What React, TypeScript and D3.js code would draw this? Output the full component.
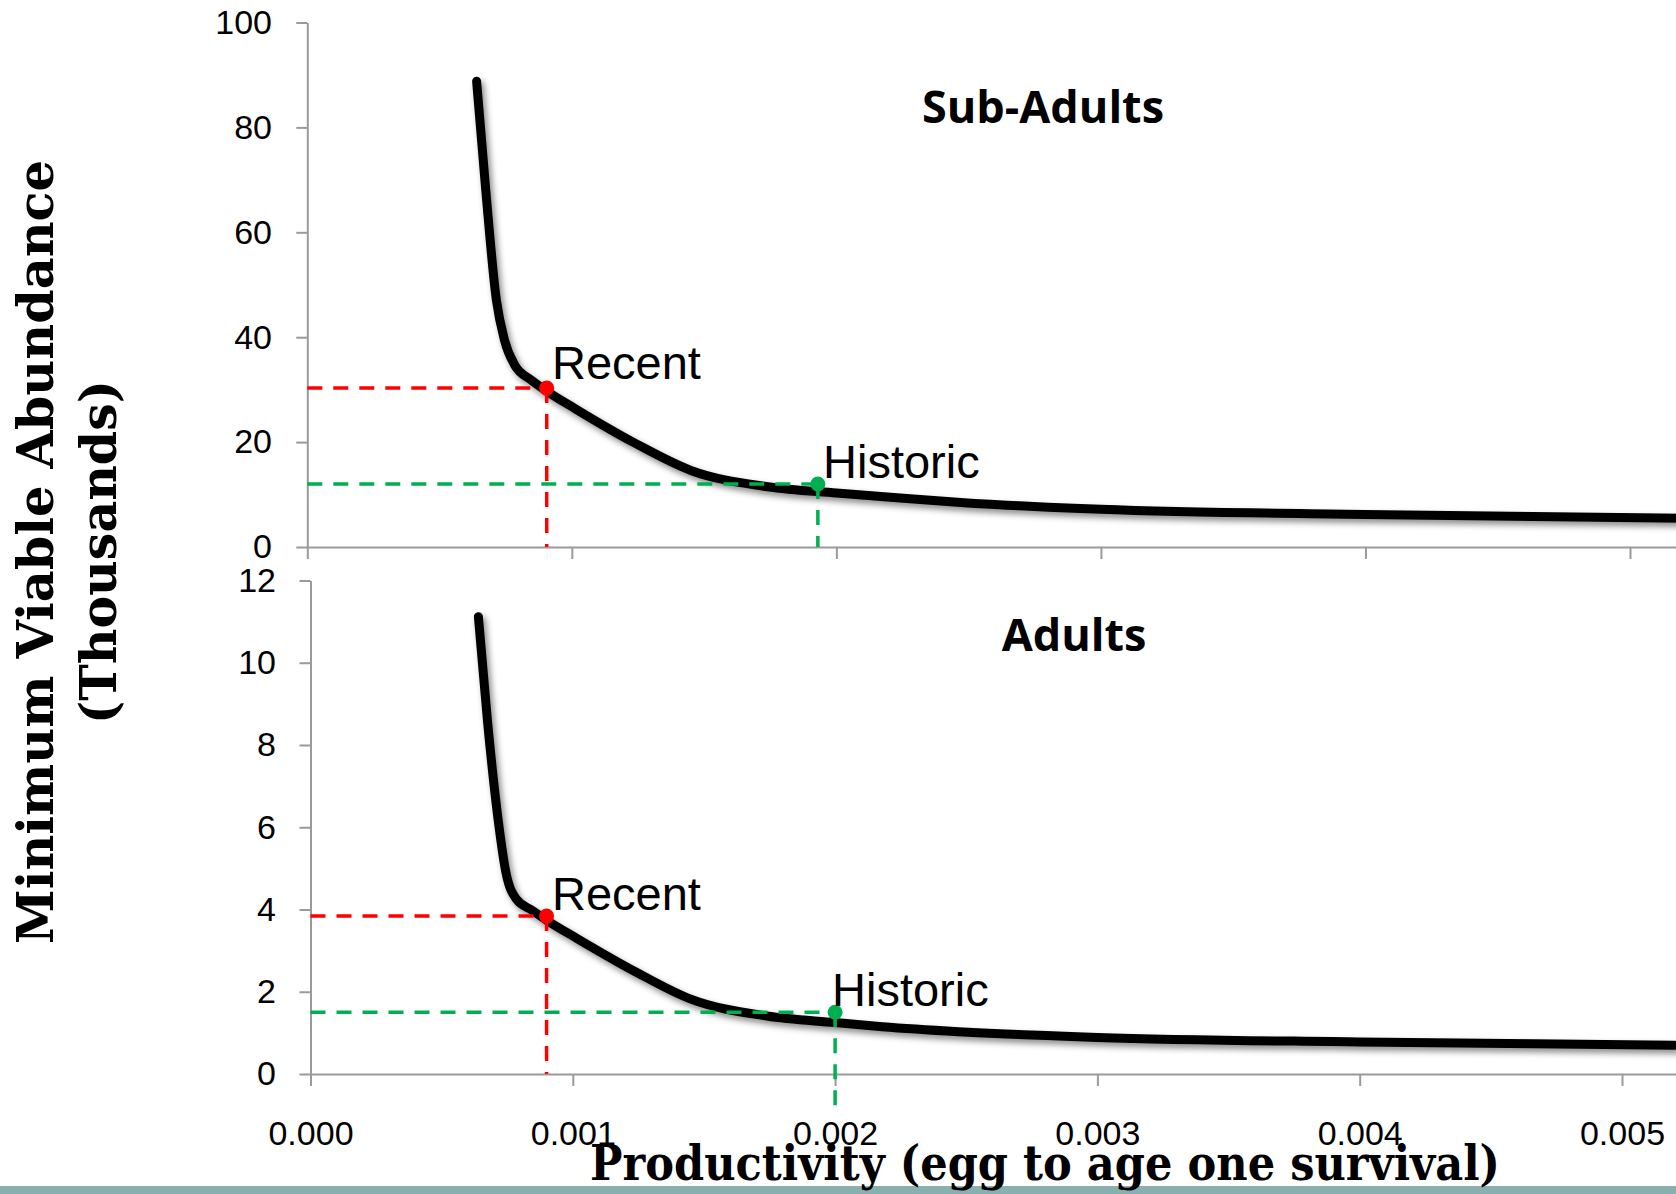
import React, { useEffect, useRef } from 'react';
import * as d3 from 'd3';

// values
const productivity = [0.00064, 0.000675, 0.000715, 0.000745, 0.000785, 0.000845, 0.0009, 0.001015, 0.001235, 0.00145, 0.00174, 0.002, 0.00218, 0.00247, 0.003, 0.004, 0.0052];
const subAdults = [88.8, 67.8, 47, 39.5, 34.6, 31.9, 29.9, 26.3, 19.9, 14.6, 11.5, 10.3, 9.6, 8.5, 7.2, 6.2, 5.5];
const adults = [11.12, 8.57, 6.2, 4.9, 4.25, 3.98, 3.74, 3.3, 2.5, 1.82, 1.41, 1.25, 1.15, 1.03, 0.89, 0.78, 0.7];

const subAdultTicks = [0, 20, 40, 60, 80, 100];
const adultTicks = [0, 2, 4, 6, 8, 10, 12];
const xTicks = [0, 0.001, 0.002, 0.003, 0.004, 0.005];
const xTickLabels = ['0.000', '0.001', '0.002', '0.003', '0.004', '0.005'];

// [productivity, abundance]
const subAdultRecent = [0.000905, 30.3];
const subAdultHistoric = [0.00193, 12.0];
const adultRecent = [0.0009, 3.84];
const adultHistoric = [0.002, 1.5];

const W = 1676;
const H = 1194;

const App = () => {
  const ref = useRef(null);

  useEffect(() => {
    const svg = d3.select(ref.current);
    svg.selectAll('*').remove();

    const defs = svg.append('defs');
    const f = defs.append('filter')
      .attr('id', 'shadow')
      .attr('x', '-10%').attr('y', '-10%')
      .attr('width', '130%').attr('height', '130%');
    f.append('feDropShadow')
      .attr('dx', 3).attr('dy', 4)
      .attr('stdDeviation', 3)
      .attr('flood-color', '#000')
      .attr('flood-opacity', 0.45);

    const panels = [
      {
        values: subAdults, ticks: subAdultTicks, yMax: 100,
        x0: 307.3, x5: 1630, y0: 547, yTop: 22.5,
        title: 'Sub-Adults', titleX: 1043, titleY: 123,
        recent: subAdultRecent, historic: subAdultHistoric,
        recentLabel: [552, 379], historicLabel: [823, 478],
        greenDrop: 0, showLabels: false, labelEnd: 272
      },
      {
        values: adults, ticks: adultTicks, yMax: 12,
        x0: 310.5, x5: 1622, y0: 1074, yTop: 580.5,
        title: 'Adults', titleX: 1074, titleY: 651,
        recent: adultRecent, historic: adultHistoric,
        recentLabel: [552, 910], historicLabel: [832, 1006],
        greenDrop: 33, showLabels: true, labelEnd: 276
      }
    ];

    panels.forEach(p => {
      const xs = d3.scaleLinear().domain([0, 0.005]).range([p.x0, p.x5]);
      const x = d3.scaleLinear().domain([0, xs.invert(W)]).range([p.x0, W]);
      const y = d3.scaleLinear().domain([0, p.yMax]).range([p.y0, p.yTop]);
      const g = svg.append('g');

      // axes
      const yAxis = g.append('g')
        .attr('transform', `translate(${p.x0},0)`)
        .call(d3.axisLeft(y).tickValues(p.ticks).tickSize(11).tickSizeOuter(0).tickFormat(d3.format('d')).tickPadding(24));
      const xAxis = g.append('g')
        .attr('transform', `translate(0,${p.y0})`)
        .call(d3.axisBottom(x).tickValues(xTicks).tickSize(12).tickSizeOuter(0)
          .tickFormat((d, i) => (p.showLabels ? xTickLabels[i] : ''))
          .tickPadding(35));
      [yAxis, xAxis].forEach(a => {
        a.selectAll('path, line').attr('stroke', '#9a9a9a').attr('stroke-width', 2);
        a.selectAll('text')
          .attr('fill', '#000')
          .style('font-family', '"Liberation Sans", Arial, sans-serif')
          .style('font-size', '34px');
      });
      yAxis.selectAll('text').attr('x', p.labelEnd - p.x0);

      // curve
      const line = d3.line()
        .x((d, i) => x(productivity[i]))
        .y(d => y(d))
        .curve(d3.curveMonotoneX);
      g.append('path')
        .datum(p.values)
        .attr('d', line)
        .attr('fill', 'none')
        .attr('stroke', '#000')
        .attr('stroke-width', 9)
        .attr('stroke-linecap', 'round')
        .attr('filter', 'url(#shadow)');

      // dashed guides
      const guides = [
        { pt: p.recent, color: '#ff0000', drop: 0 },
        { pt: p.historic, color: '#00b050', drop: p.greenDrop }
      ];
      guides.forEach(gd => {
        const px = x(gd.pt[0]);
        const py = y(gd.pt[1]);
        g.append('line')
          .attr('x1', p.x0).attr('x2', px)
          .attr('y1', py).attr('y2', py)
          .attr('stroke', gd.color).attr('stroke-width', 3.5)
          .attr('stroke-dasharray', '15 11');
        g.append('line')
          .attr('x1', px).attr('x2', px)
          .attr('y1', py).attr('y2', p.y0 + gd.drop)
          .attr('stroke', gd.color).attr('stroke-width', 3.5)
          .attr('stroke-dasharray', '15 11');
      });
      guides.forEach(gd => {
        g.append('circle')
          .attr('cx', x(gd.pt[0]))
          .attr('cy', y(gd.pt[1]))
          .attr('r', 7.5)
          .attr('fill', gd.color);
      });

      // labels
      const labelFont = '"Liberation Sans", Arial, sans-serif';
      g.append('text')
        .attr('x', p.recentLabel[0]).attr('y', p.recentLabel[1])
        .style('font-family', labelFont).style('font-size', '47px')
        .text('Recent');
      g.append('text')
        .attr('x', p.historicLabel[0]).attr('y', p.historicLabel[1])
        .style('font-family', labelFont).style('font-size', '47px')
        .text('Historic');
      g.append('text')
        .attr('x', p.titleX).attr('y', p.titleY)
        .attr('text-anchor', 'middle')
        .style('font-family', '"Open Sans", sans-serif')
        .style('font-weight', 'bold')
        .style('font-size', '45px')
        .text(p.title);
    });

    // bottom band
    svg.append('rect')
      .attr('x', 0).attr('y', 1186)
      .attr('width', W).attr('height', H - 1186)
      .attr('fill', '#8aafaf');

    const serif = '"DejaVu Serif", "Liberation Serif", serif';
    svg.append('text')
      .attr('x', 1045).attr('y', 1180)
      .attr('text-anchor', 'middle')
      .attr('textLength', 910)
      .attr('lengthAdjust', 'spacingAndGlyphs')
      .style('font-family', serif).style('font-weight', 'bold').style('font-size', '49px')
      .text('Productivity (egg to age one survival)');

    const yTitle = svg.append('g');
    yTitle.append('text')
      .attr('transform', 'translate(53,552) rotate(-90)')
      .attr('text-anchor', 'middle')
      .attr('textLength', 784)
      .attr('lengthAdjust', 'spacingAndGlyphs')
      .style('font-family', serif).style('font-weight', 'bold').style('font-size', '51px')
      .text('Minimum Viable Abundance');
    yTitle.append('text')
      .attr('transform', 'translate(116,552) rotate(-90)')
      .attr('text-anchor', 'middle')
      .attr('textLength', 344)
      .attr('lengthAdjust', 'spacingAndGlyphs')
      .style('font-family', serif).style('font-weight', 'bold').style('font-size', '51px')
      .text('(Thousands)');
  }, []);

  return (
    <svg
      ref={ref}
      width={W}
      height={H}
      style={{ position: 'absolute', left: 0, top: 0, background: '#fff' }}
    />
  );
};

export default App;
